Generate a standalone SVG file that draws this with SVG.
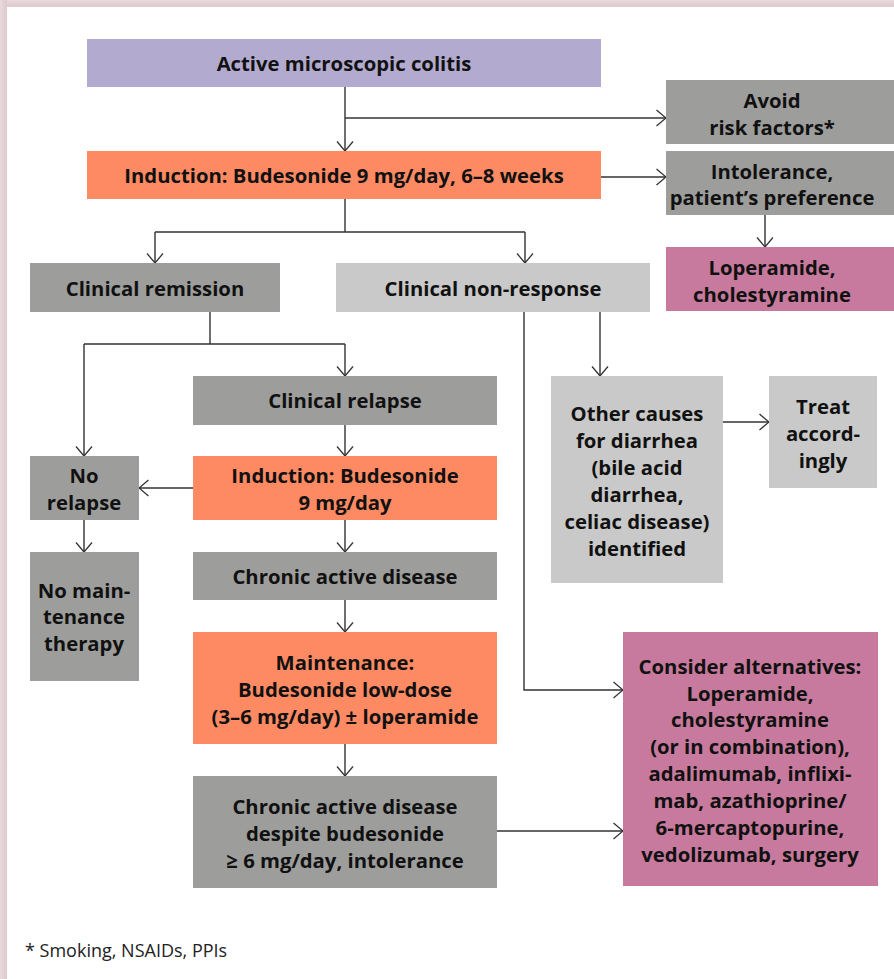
<svg xmlns="http://www.w3.org/2000/svg" width="894" height="979" viewBox="0 0 894 979">
<defs>
<linearGradient id="bt" x1="0" y1="0" x2="0" y2="1"><stop offset="0" stop-color="#e9d8dc"/><stop offset="1" stop-color="#dccacd"/></linearGradient>
<linearGradient id="bl" x1="0" y1="0" x2="1" y2="0"><stop offset="0" stop-color="#e9d8dc"/><stop offset="1" stop-color="#dccacd"/></linearGradient>
<marker id="ah" viewBox="0 0 10 18" refX="10" refY="9" markerWidth="10" markerHeight="18" markerUnits="userSpaceOnUse" orient="auto">
<path d="M0.5,1 L10,9 L0.5,17" fill="none" stroke="#333" stroke-width="1.3"/>
</marker>
<style>
.t{font-family:"Open Sans","Noto Sans","DejaVu Sans",sans-serif;font-weight:700;font-size:20.3px;fill:#111;text-anchor:middle;dominant-baseline:central}
.pu{fill:#b3abcf}.or{fill:#fd8a63}.dg{fill:#9d9e9c}.lg{fill:#c8c9c8}.pk{fill:#c77a9d}
.c{fill:none;stroke:#333;stroke-width:1.4}
.ar{marker-end:url(#ah)}
</style>
</defs>
<rect x="0" y="0" width="894" height="979" fill="#fff"/>
<rect x="0" y="0" width="894" height="7" fill="url(#bt)"/>
<rect x="0" y="0" width="7" height="979" fill="url(#bl)"/>

<g id="connectors">
<path class="c ar" d="M345,87 V151"/>
<path class="c ar" d="M345,118 H666"/>
<path class="c ar" d="M601,177 H666"/>
<path class="c ar" d="M765,215 V247"/>
<path class="c" d="M345,199 V232 M155,232 H525"/>
<path class="c ar" d="M155,232 V263"/>
<path class="c ar" d="M525,232 V263"/>
<path class="c" d="M210,312 V344 M84,344 H345"/>
<path class="c ar" d="M84,344 V456"/>
<path class="c ar" d="M345,344 V376"/>
<path class="c ar" d="M345,425 V456"/>
<path class="c ar" d="M193,488 H139"/>
<path class="c ar" d="M84,520 V552"/>
<path class="c ar" d="M345,520 V552"/>
<path class="c ar" d="M345,600 V632"/>
<path class="c ar" d="M345,744 V776"/>
<path class="c ar" d="M497,831 H623"/>
<path class="c ar" d="M524,312 V690 H623"/>
<path class="c ar" d="M600,312 V376"/>
<path class="c ar" d="M723,422 H769"/>
</g>

<g id="n-active"><rect class="pu" x="87" y="39" width="514" height="48"/><text class="t" x="344" y="63">Active microscopic colitis</text></g>
<g id="n-induction"><rect class="or" x="87" y="151" width="514" height="48"/><text class="t" x="344" y="175">Induction: Budesonide 9 mg/day, 6–8 weeks</text></g>
<g id="n-avoid"><rect class="dg" x="666" y="80" width="228" height="64"/><text class="t" x="772"><tspan x="772" y="100">Avoid</tspan><tspan x="772" y="127">risk factors*</tspan></text></g>
<g id="n-intolerance"><rect class="dg" x="666" y="151" width="228" height="64"/><text class="t"><tspan x="772" y="171">Intolerance,</tspan><tspan x="772" y="197">patient’s preference</tspan></text></g>
<g id="n-loperamide"><rect class="pk" x="666" y="247" width="228" height="64"/><text class="t"><tspan x="772" y="267">Loperamide,</tspan><tspan x="772" y="294">cholestyramine</tspan></text></g>
<g id="n-remission"><rect class="dg" x="30" y="263" width="250" height="49"/><text class="t" x="155" y="288">Clinical remission</text></g>
<g id="n-nonresponse"><rect class="lg" x="336" y="263" width="314" height="49"/><text class="t" x="493" y="288">Clinical non-response</text></g>
<g id="n-relapse"><rect class="dg" x="193" y="376" width="304" height="49"/><text class="t" x="345" y="400">Clinical relapse</text></g>
<g id="n-induction2"><rect class="or" x="193" y="456" width="304" height="64"/><text class="t"><tspan x="345" y="475">Induction: Budesonide</tspan><tspan x="345" y="502">9 mg/day</tspan></text></g>
<g id="n-norelapse"><rect class="dg" x="30" y="456" width="109" height="64"/><text class="t"><tspan x="84" y="475">No</tspan><tspan x="84" y="502">relapse</tspan></text></g>
<g id="n-nomaint"><rect class="dg" x="30" y="552" width="109" height="129"/><text class="t"><tspan x="84" y="590">No main-</tspan><tspan x="84" y="616">tenance</tspan><tspan x="84" y="643">therapy</tspan></text></g>
<g id="n-chronic"><rect class="dg" x="193" y="552" width="304" height="48"/><text class="t" x="345" y="576">Chronic active disease</text></g>
<g id="n-maintenance"><rect class="or" x="193" y="632" width="304" height="112"/><text class="t"><tspan x="345" y="662">Maintenance:</tspan><tspan x="345" y="689">Budesonide low-dose</tspan><tspan x="345" y="716">(3–6 mg/day) ± loperamide</tspan></text></g>
<g id="n-chronic2"><rect class="dg" x="193" y="776" width="304" height="112"/><text class="t"><tspan x="345" y="806">Chronic active disease</tspan><tspan x="345" y="833">despite budesonide</tspan><tspan x="345" y="860">≥ 6 mg/day, intolerance</tspan></text></g>
<g id="n-other"><rect class="lg" x="551" y="376" width="172" height="207"/><text class="t"><tspan x="637" y="413">Other causes</tspan><tspan x="637" y="440">for diarrhea</tspan><tspan x="637" y="467">(bile acid</tspan><tspan x="637" y="494">diarrhea,</tspan><tspan x="637" y="521">celiac disease)</tspan><tspan x="637" y="548">identified</tspan></text></g>
<g id="n-treat"><rect class="lg" x="769" y="376" width="108" height="112"/><text class="t"><tspan x="823" y="406">Treat</tspan><tspan x="823" y="433">accord-</tspan><tspan x="823" y="460">ingly</tspan></text></g>
<g id="n-consider"><rect class="pk" x="623" y="632" width="255" height="254"/><text class="t"><tspan x="750" y="666">Consider alternatives:</tspan><tspan x="750" y="693">Loperamide,</tspan><tspan x="750" y="719">cholestyramine</tspan><tspan x="750" y="746">(or in combination),</tspan><tspan x="750" y="773">adalimumab, inflixi-</tspan><tspan x="750" y="800">mab, azathioprine/</tspan><tspan x="750" y="827">6-mercaptopurine,</tspan><tspan x="750" y="854">vedolizumab, surgery</tspan></text></g>

<text x="25" y="957" font-family="'Open Sans','Noto Sans',sans-serif" font-size="18" fill="#222">* Smoking, NSAIDs, PPIs</text>
</svg>
